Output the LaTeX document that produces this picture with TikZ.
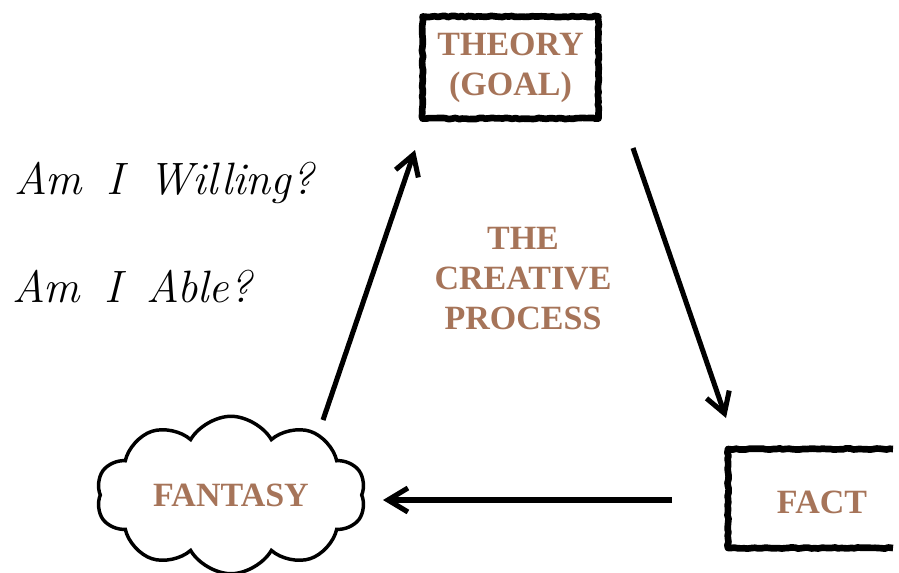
\documentclass[tikz,border=0pt]{standalone}
\usepackage{fontspec}
\usetikzlibrary{arrows.meta,calc,shapes.symbols,decorations.pathmorphing}
\newfontfamily\capsfont{Liberation Serif}
\definecolor{clay}{RGB}{166,116,89}

\tikzset{every picture/.style={line width=0.75pt}}
\tikzset{
  caption/.style={font=\capsfont\bfseries\fontsize{25.5}{30}\selectfont, text=clay, align=center, inner sep=0.75pt},
  brush/.style={line width=5pt, line join=round, decorate, decoration={random steps, segment length=2.5pt, amplitude=0.5pt}},
  flow/.style={line width=3.8pt, -{Straight Barb[length=15pt,width=18pt]}},
  hand/.style={font=\itshape\fontsize{34}{38}\selectfont, anchor=base west, inner sep=0pt}
}

\begin{document}
\begin{tikzpicture}[x=0.75pt,y=0.75pt,yscale=-1,xscale=1]
    \useasboundingbox (0,0) rectangle (899,572);
    
    % Text Node
    \node [caption, minimum width=131.25pt, minimum height=75.75pt] (theory) at (510.5,67.5) {THEORY\\(GOAL)};
    %Shape: Rectangle 
    \draw [brush] (theory.north west) rectangle (theory.south east);
    
    % Text Node
    \node [caption] (fact) at (822,502) {FACT};
    %Shape: Open Frame 
    \draw [brush] ($(fact)+(71,-53)$) -- ($(fact)+(-94,-53)$) -- ($(fact)+(-94,46)$) -- ($(fact)+(71,46)$);
    
    %Shape: Cloud 
    \node [caption, cloud, cloud puffs=10, cloud puff arc=120, aspect=1.8, draw, line width=2.6pt, minimum width=202pt, minimum height=112pt] (fantasy) at (231,495) {FANTASY};
    
    % Text Node
    \node [caption] (process) at (523,279) {THE\\CREATIVE\\PROCESS};
    
    % Text Node
    \node [hand] (willing) at (14,194) {Am\hspace{0.55em}I\hspace{0.55em}Willing?};
    % Text Node
    \node [hand] (able) at (12,302) {Am\hspace{0.55em}I\hspace{0.55em}Able?};
    
    %Straight Lines 
    \coordinate (fantasy-out) at ($(fantasy)+(92,-75)$);
    \coordinate (theory-in) at ($(theory)+(-95.5,82.5)$);
    \draw [flow] (fantasy-out) -- (theory-in);
    %Straight Lines 
    \coordinate (theory-out) at ($(theory)+(122.5,80.5)$);
    \coordinate (fact-in) at ($(fact)+(-96,-84)$);
    \draw [flow] (theory-out) -- (fact-in);
    %Straight Lines 
    \coordinate (fact-out) at ($(fact)+(-150,-2)$);
    \coordinate (fantasy-in) at ($(fantasy)+(152,5)$);
    \draw [flow] (fact-out) -- (fantasy-in);
    
\end{tikzpicture}
\end{document}
